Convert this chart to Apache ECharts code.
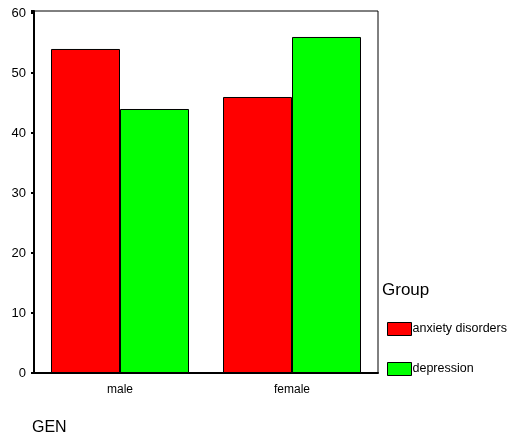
<!DOCTYPE html>
<html><head><meta charset="utf-8">
<script src="https://cdn.jsdelivr.net/npm/echarts@6/dist/echarts.min.js"></script>
<style>html,body{margin:0;padding:0;background:#fff}#c{width:514px;height:438px}</style>
</head><body><div id="c"></div>
<script>
const categories = ['male', 'female'];
const seriesNames = ['anxiety disorders', 'depression'];
const anxiety = [54, 46];
const depression = [44, 56];
const yTicks = [0, 10, 20, 30, 40, 50, 60];

const chart = echarts.init(document.getElementById('c'));
const font = 'Liberation Sans, Arial, sans-serif';
chart.setOption({
  animation: false,
  textStyle: { fontFamily: font },
  grid: { left: 34, right: 136, top: 11, bottom: 65, show: true, borderColor: '#000', borderWidth: 1, backgroundColor: '#fff' },
  xAxis: {
    type: 'category', data: categories,
    axisLine: { lineStyle: { color: '#000', width: 2 } },
    axisTick: { alignWithLabel: true, length: 3, lineStyle: { color: '#000', width: 2 } },
    axisLabel: { color: '#000', fontSize: 12, margin: 11, fontFamily: font }
  },
  yAxis: {
    type: 'value', min: 0, max: 60.33, interval: 10,
    splitLine: { show: false },
    axisLine: { show: true, lineStyle: { color: '#000', width: 2 } },
    axisTick: { show: true, length: 3, lineStyle: { color: '#000', width: 2 } },
    axisLabel: { color: '#000', fontSize: 13, margin: 8, fontFamily: font,
      formatter: v => yTicks.includes(v) ? String(v) : '' }
  },
  legend: {
    orient: 'vertical', left: 382, top: 317, itemWidth: 24, itemHeight: 13, itemGap: 26,
    icon: 'rect', itemStyle: { borderColor: '#000', borderWidth: 1 },
    textStyle: { fontSize: 12.5, color: '#000', fontFamily: font, padding: [0, 0, 0, -4] },
    data: seriesNames
  },
  graphic: [
    { type: 'text', left: 382, top: 282, style: { text: 'Group', fontSize: 17, fill: '#000', fontFamily: font } },
    { type: 'text', left: 32, top: 420, style: { text: 'GEN', fontSize: 16, fill: '#000', fontFamily: font } }
  ],
  series: [
    { name: seriesNames[0], type: 'bar', data: anxiety, barWidth: 69, barGap: '0%',
      itemStyle: { color: '#ff0000', borderColor: '#000', borderWidth: 1 } },
    { name: seriesNames[1], type: 'bar', data: depression, barWidth: 69, barGap: '0%',
      itemStyle: { color: '#00ff00', borderColor: '#000', borderWidth: 1 } }
  ]
});
</script></body></html>
